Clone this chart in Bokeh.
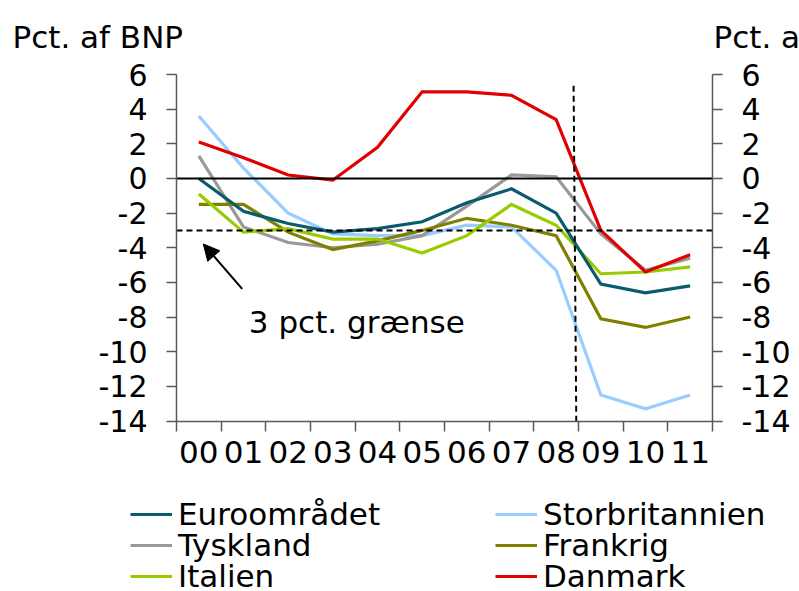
from bokeh.plotting import figure
from bokeh.models import (LinearAxis, FixedTicker, Label, Arrow, NormalHead,
                          Legend, LegendItem, Range1d, PrintfTickFormatter)
from bokeh.embed import file_html
from bokeh.resources import INLINE

years = ["00", "01", "02", "03", "04", "05", "06", "07", "08", "09", "10", "11"]
euro = [0.0, -1.9, -2.6, -3.1, -2.9, -2.5, -1.4, -0.6, -2.0, -6.1, -6.6, -6.2]
uk = [3.6, 0.6, -2.0, -3.2, -3.3, -3.3, -2.7, -2.8, -5.3, -12.5, -13.3, -12.5]
tysk = [1.3, -2.8, -3.7, -4.0, -3.8, -3.3, -1.6, 0.2, 0.1, -3.2, -5.3, -4.6]
frank = [-1.5, -1.5, -3.1, -4.1, -3.6, -3.0, -2.3, -2.7, -3.3, -8.1, -8.6, -8.0]
ital = [-0.9, -3.1, -2.9, -3.5, -3.5, -4.3, -3.3, -1.5, -2.7, -5.5, -5.4, -5.1]
dk = [2.1, 1.2, 0.2, -0.1, 1.8, 5.0, 5.0, 4.8, 3.4, -3.0, -5.4, -4.4]
y_ticks = [-14, -12, -10, -8, -6, -4, -2, 0, 2, 4, 6]
y_min, y_max = -14, 6
limit = -3

FONT = "DejaVu Sans"
AX = "#595959"

# page layout (pixels) of the plotting area
W, H = 799, 591
PX_L, PX_R = 176, 712          # x = 0 and x = 12
PX_T, PX_B = 74, 420.5         # y = 6 and y = -14
n = len(years)
sx = (PX_R - PX_L) / n
sy = (PX_B - PX_T) / (y_max - y_min)
xr = Range1d(-PX_L / sx, n + (W - PX_R) / sx)
yr = Range1d(y_min - (H - PX_B) / sy, y_max + PX_T / sy)

x = [i + 0.5 for i in range(n)]

p = figure(width=W, height=H, x_range=xr, y_range=yr,
           output_backend="svg", toolbar_location=None,
           x_axis_location=None, y_axis_location=None,
           min_border=0)
p.outline_line_color = None
p.xgrid.visible = False
p.ygrid.visible = False
p.background_fill_color = "white"
p.border_fill_color = "white"

for side, loc in (("left", 0), ("right", n)):
    ax = LinearAxis(ticker=FixedTicker(ticks=y_ticks, minor_ticks=[]),
                    formatter=PrintfTickFormatter(format="%d"),
                    fixed_location=loc, bounds=(y_min, y_max))
    ax.axis_line_color = AX
    ax.axis_line_width = 1.5
    ax.major_tick_line_color = AX
    ax.major_tick_line_width = 1.5
    ax.major_tick_in = 0
    ax.major_tick_out = 10
    ax.minor_tick_line_color = None
    ax.major_label_standoff = 19
    ax.major_label_text_font = FONT
    ax.major_label_text_font_size = "30px"
    ax.major_label_text_color = "black"
    p.add_layout(ax, side)

xa = LinearAxis(ticker=FixedTicker(ticks=x, minor_ticks=list(range(n + 1))),
                major_label_overrides={xi: yl for xi, yl in zip(x, years)},
                fixed_location=y_min, bounds=(0, n))
xa.axis_line_color = AX
xa.axis_line_width = 1.5
xa.major_tick_line_color = None
xa.major_tick_in = 0
xa.major_tick_out = 10
xa.minor_tick_line_color = AX
xa.minor_tick_line_width = 1.5
xa.minor_tick_in = 0
xa.minor_tick_out = 10
xa.major_label_standoff = 10
xa.major_label_text_font = FONT
xa.major_label_text_font_size = "31px"
xa.major_label_text_color = "black"
p.add_layout(xa, "below")

series = [
    ("Storbritannien", uk, "#99ccff"),
    ("Tyskland", tysk, "#999999"),
    ("Frankrig", frank, "#808000"),
    ("Italien", ital, "#99cc00"),
    ("Euroområdet", euro, "#0b5b6f"),
    ("Danmark", dk, "#e00000"),
]
rend = {}
for name, vals, col in series:
    rend[name] = p.line(x, vals, line_color=col, line_width=3.2, line_join="miter")

# zero line, 3 pct. limit and 2008/09 divider
p.segment(x0=[0], y0=[0], x1=[n], y1=[0], line_color="black", line_width=2)
p.segment(x0=[0], y0=[limit], x1=[n], y1=[limit], line_color="black",
          line_width=2, line_dash="6 4")
p.segment(x0=[8.89], y0=[5.35], x1=[8.95], y1=[y_min], line_color="black",
          line_width=2, line_dash="6 4")

p.add_layout(Arrow(x_start=1.47, y_start=-6.37, x_end=0.6, y_end=-3.78,
                   line_color="black", line_width=2,
                   end=NormalHead(size=16, fill_color="black", line_color="black")))
p.add_layout(Label(x=1.62, y=-8.3, text="3 pct. grænse", text_font=FONT,
                   text_font_size="31px", text_color="black",
                   text_baseline="alphabetic"))

# unit labels at top
p.add_layout(Label(x=12, y=H - 36.7, x_units="screen", y_units="screen",
                   text="Pct. af BNP", text_font=FONT, text_font_size="31px",
                   text_color="black", text_baseline="alphabetic"))
p.add_layout(Label(x=713, y=H - 36.7, x_units="screen", y_units="screen",
                   text="Pct. af BNP", text_font=FONT, text_font_size="31px",
                   text_color="black", text_baseline="alphabetic"))

rows = [("Euroområdet", "Storbritannien"), ("Tyskland", "Frankrig"), ("Italien", "Danmark")]
row_centers = [514.5, 545.5, 576.5]
for (a, b), cy in zip(rows, row_centers):
    leg = Legend(items=[LegendItem(label=a, renderers=[rend[a]]),
                        LegendItem(label=b, renderers=[rend[b]])],
                 orientation="horizontal", location=(130, H - cy - 17.5),
                 glyph_width=42, glyph_height=20, label_standoff=6,
                 label_width=317, label_height=20, spacing=0, padding=0, margin=0,
                 border_line_color=None, background_fill_alpha=0,
                 label_text_font=FONT, label_text_font_size="31px",
                 label_text_color="black", label_text_baseline="middle")
    p.add_layout(leg)

open("out.html", "w").write(file_html(p, INLINE))
